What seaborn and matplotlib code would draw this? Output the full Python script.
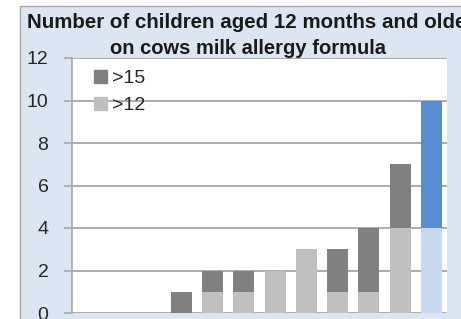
import matplotlib
matplotlib.use("Agg")
import matplotlib.pyplot as plt
import matplotlib.patches as mpatches
import pandas as pd
import seaborn as sns

# data (x labels are cut off in the reference)
categories = ["1", "2", "3", "4", "5", "6", "7", "8", "9", "10", "11", "12"]
over_12 = [0, 0, 0, 0, 1, 1, 2, 3, 1, 1, 4, 4]
over_15 = [0, 0, 0, 1, 1, 1, 0, 0, 2, 3, 3, 6]
series_labels = [">15", ">12"]

dark_grey = "#808080"
light_grey = "#bfbfbf"
dark_blue = "#558ed5"
light_blue = "#c6d9f1"

df = pd.DataFrame({"cat": categories, "over_12": over_12, "over_15": over_15})
df["total"] = df["over_12"] + df["over_15"]

top_colors = [dark_grey] * 11 + [dark_blue]
bottom_colors = [light_grey] * 11 + [light_blue]

sns.set_style("white")
plt.rcParams["font.family"] = ["Liberation Sans", "DejaVu Sans"]

fig = plt.figure(figsize=(4.61, 3.19), dpi=100)
fig.patch.set_facecolor("white")
bg = mpatches.Rectangle((20 / 461, -0.1), 1.2, 0.1 + 313 / 319, transform=fig.transFigure,
                        facecolor="#dce6f2", edgecolor="#a6a6a6", lw=1, zorder=-5)
fig.patches.append(bg)

ax = fig.add_axes([72 / 461, 6 / 319, 375 / 461, 255 / 319])
ax.set_zorder(1)
ax.set_facecolor("white")

# stacked bars: total first, then the lower series on top of it
sns.barplot(data=df, x="cat", y="total", hue="cat", palette=top_colors, saturation=1,
            width=0.67, legend=False, ax=ax, zorder=3, linewidth=0)
sns.barplot(data=df, x="cat", y="over_12", hue="cat", palette=bottom_colors, saturation=1,
            width=0.67, legend=False, ax=ax, zorder=4, linewidth=0)

ax.set_ylim(0, 12)
ax.set_xlim(-0.5, 11.5)
ax.set_yticks(range(0, 13, 2))
ax.yaxis.grid(True, color="#a6a6a6", lw=1.3, zorder=1)
ax.set_axisbelow(True)
ax.set_xlabel("")
ax.set_ylabel("")
ax.tick_params(axis="y", direction="out", length=6, width=1.2, color="#a6a6a6",
               pad=11, labelsize=14, labelcolor="#262626", left=True)
ax.tick_params(axis="x", bottom=False, labelbottom=False)
for side in ["top", "right", "bottom"]:
    ax.spines[side].set_visible(False)
ax.spines["left"].set_color("#a6a6a6")
ax.spines["left"].set_linewidth(1.2)

handles = [mpatches.Patch(color=dark_grey), mpatches.Patch(color=light_grey)]
ax.legend(handles, series_labels, loc="upper left", frameon=False, fontsize=14,
          handlelength=0.67, handleheight=0.67, handletextpad=0.25, labelspacing=0.48,
          borderpad=0, borderaxespad=0, bbox_to_anchor=(0.0587, 0.953),
          labelcolor="#262626")

fig.text(27 / 461, 1 - 22 / 319, "Number of children aged 12 months and older",
         ha="left", va="center", fontsize=14.8, fontweight="bold", color="#1a1a1a")
fig.text(248 / 461, 1 - 48 / 319, "on cows milk allergy formula",
         ha="center", va="center", fontsize=14.5, fontweight="bold", color="#1a1a1a")

fig.savefig("out.png", dpi=100)
